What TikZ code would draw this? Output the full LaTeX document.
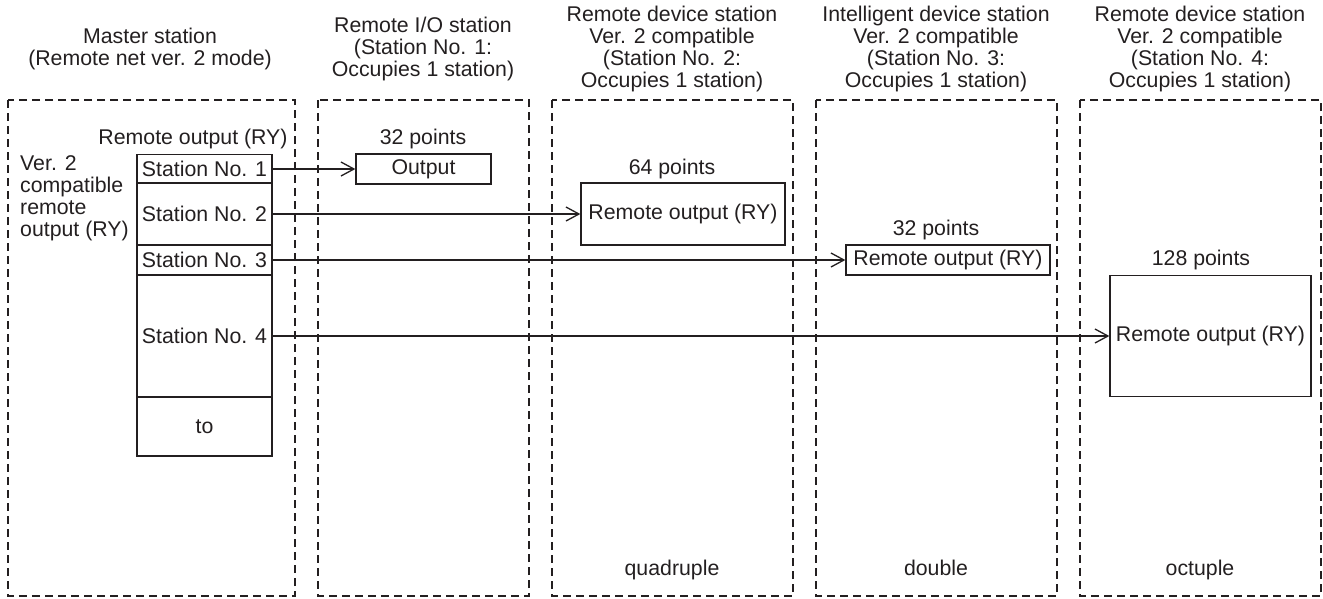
\documentclass[tikz,border=0pt]{standalone}
\usepackage{fontspec}
\setmainfont{Liberation Sans}
\usetikzlibrary{arrows.meta}
\definecolor{ink}{HTML}{231F20}
\begin{document}
\begin{tikzpicture}[x=1pt,y=-1pt,
  every node/.style={font=\fontsize{21.3}{22}\selectfont, inner sep=0pt, text=ink},
  dbox/.style={draw=ink, line width=1.3pt, dash pattern=on 8pt off 5pt},
  cell/.style={draw=ink, line width=1.3pt, minimum width=135pt},
  conn/.style={draw=ink, line width=1.3pt, -{Straight Barb[length=13pt,width=14pt,line width=1.3pt]}},
  mult/.style={anchor=base},
]
\useasboundingbox (0,0) rectangle (1323,598);

% titles
\node[align=center] (t1) at (150,49) {Master station\\(Remote net ver. 2 mode)};
\node[align=center] (t2) at (423,49) {Remote I/O station\\(Station No. 1:\\Occupies 1 station)};
\node[align=center] (t3) at (672,49) {Remote device station\\Ver. 2 compatible\\(Station No. 2:\\Occupies 1 station)};
\node[align=center] (t4) at (936,49) {Intelligent device station\\Ver. 2 compatible\\(Station No. 3:\\Occupies 1 station)};
\node[align=center] (t5) at (1200,49) {Remote device station\\Ver. 2 compatible\\(Station No. 4:\\Occupies 1 station)};

% dashed station frames
\draw[dbox] (8,100) rectangle (295,596);
\draw[dbox] (318,100) rectangle (529,596);
\draw[dbox] (552,100) rectangle (793,596);
\draw[dbox] (816,100) rectangle (1057,596);
\draw[dbox] (1080,100) rectangle (1321,596);

% master register
\node (rylab) at (193,138.5) {Remote output (RY)};
\node[align=left, anchor=west] (verlab) at (20,198) {Ver. 2\\compatible\\remote\\output (RY)};
\node[cell, minimum height=29pt] (s1) at (204.5,169) {Station No. 1};
\node[cell, minimum height=62pt] (s2) at (204.5,214) {Station No. 2};
\node[cell, minimum height=30pt] (s3) at (204.5,260) {Station No. 3};
\node[cell, minimum height=122pt] (s4) at (204.5,336) {Station No. 4};
\node[cell, minimum height=59pt] (s5) at (204.5,426.5) {to};

% destination areas
\node (p1) at (423,138.5) {32 points};
\node[cell, minimum width=135pt, minimum height=30pt] (o1) at (423.5,169) {Output};
\node (p2) at (672,168.5) {64 points};
\node[cell, minimum width=204pt, minimum height=62pt] (o2) at (683,214) {Remote output (RY)};
\node (p3) at (936,229.5) {32 points};
\node[cell, minimum width=204pt, minimum height=30pt] (o3) at (948,260) {Remote output (RY)};
\node (p4) at (1201,259.5) {128 points};
\node[cell, minimum width=201pt, minimum height=121pt] (o4) at (1210.5,336) {Remote output (RY)};

% connectors
\draw[conn] (s1.east) -- (s1.east -| o1.west);
\draw[conn] (s2.east) -- (s2.east -| o2.west);
\draw[conn] (s3.east) -- (s3.east -| o3.west);
\draw[conn] (s4.east) -- (s4.east -| o4.west);

% multiplier labels
\node[mult] (m3) at (672,575) {quadruple};
\node[mult] (m4) at (936,575) {double};
\node[mult] (m5) at (1200,575) {octuple};
\end{tikzpicture}
\end{document}
